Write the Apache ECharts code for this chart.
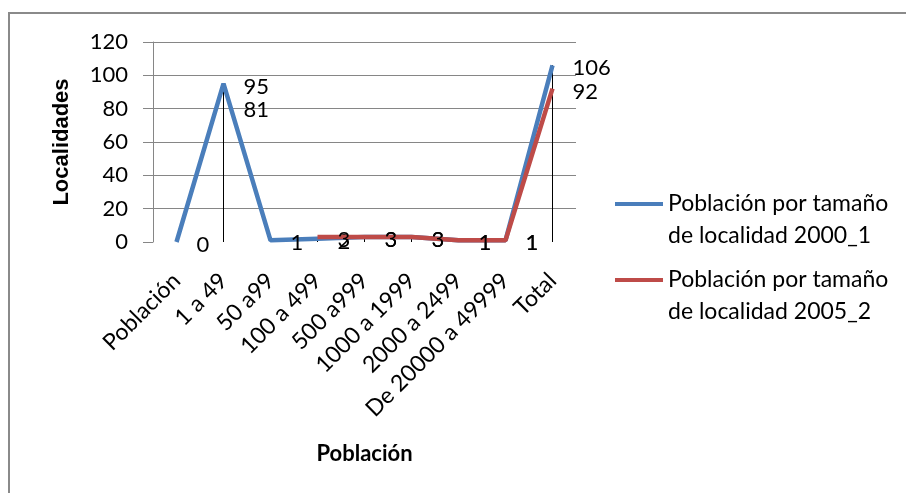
<!DOCTYPE html>
<html>
<head>
<meta charset="utf-8">
<script src="https://cdn.jsdelivr.net/npm/echarts@6/dist/echarts.min.js"></script>
<style>html,body{margin:0;padding:0;background:#fff;}#c{width:906px;height:493px;}</style>
</head>
<body>
<div id="c"></div>
<script>
const categories = ['Población', '1 a 49', '50 a99', '100 a 499', '500 a999', '1000 a 1999', '2000 a 2499', 'De 20000 a 49999', 'Total'];
const serie2000 = [0, 95, 1, 2, 3, 3, 1, 1, 106];
const serie2005 = [null, 81, null, 3, 3, 3, 1, 1, 92];
const seriesNames = ['Población por tamaño de localidad 2000_1', 'Población por tamaño de localidad 2005_2'];
const yTicks = { min: 0, max: 120, interval: 20 };

const blue = '#4A7EBB';
const red = '#BE4B48';
const dropVals = categories.map((c, i) => Math.max(serie2000[i] ?? 0, serie2005[i] ?? 0));

const chart = echarts.init(document.getElementById('c'));
const labelStyle = { show: true, position: 'right', distance: 20, offset: [0, 3], color: '#000', fontSize: 22, fontFamily: 'Lato' };
const legendText = { color: '#000', fontSize: 23, fontFamily: 'Lato', lineHeight: 32 };
// blank first line so that the icon sits beside the first text line
const fmt = n => '\n' + n.replace(' de ', '\nde ');

chart.setOption({
  animation: false,
  graphic: [{
    type: 'rect', shape: { x: 9, y: 13, width: 1000, height: 1000 },
    style: { fill: 'none', stroke: '#8a8a8a', lineWidth: 2 }, silent: true
  }],
  legend: [
    { data: [{ name: seriesNames[0], itemStyle: { color: blue } }], left: 610, top: 151, icon: 'rect', itemWidth: 48, itemHeight: 4, formatter: fmt, textStyle: legendText, selectedMode: false },
    { data: [{ name: seriesNames[1], itemStyle: { color: red } }], left: 610, top: 227, icon: 'rect', itemWidth: 48, itemHeight: 4, formatter: fmt, textStyle: legendText, selectedMode: false }
  ],
  grid: { left: 153, top: 42, right: 330, bottom: 251 },
  xAxis: {
    type: 'category', data: categories, boundaryGap: true,
    axisLine: { show: false }, axisTick: { show: false },
    axisLabel: { rotate: 45, interval: 0, margin: 35, fontSize: 23, fontFamily: 'Lato', color: '#000' },
    name: 'Población', nameLocation: 'middle', nameGap: 201,
    nameTextStyle: { fontFamily: 'Lato', fontWeight: 'bold', fontSize: 22, color: '#000' }
  },
  yAxis: {
    type: 'value', min: yTicks.min, max: yTicks.max, interval: yTicks.interval,
    axisLine: { show: true, lineStyle: { color: '#868686' } },
    axisTick: { show: true, length: 10, lineStyle: { color: '#868686' } },
    splitLine: { show: true, showMinLine: false, lineStyle: { color: '#868686' } },
    axisLabel: { margin: 25, fontSize: 22, fontFamily: 'Lato', color: '#000' },
    name: 'Localidades', nameLocation: 'middle', nameRotate: 90, nameGap: 80,
    nameTextStyle: { fontFamily: 'Liberation Sans', fontWeight: 'bold', fontSize: 22, color: '#000' }
  },
  series: [
    { type: 'bar', data: dropVals, barWidth: 1, itemStyle: { color: '#000' }, silent: true, z: 1, tooltip: { show: false } },
    { name: seriesNames[0], type: 'line', data: serie2000, symbol: 'circle', symbolSize: 0, showSymbol: true,
      lineStyle: { color: blue, width: 4.5 }, itemStyle: { color: blue }, label: labelStyle, z: 3 },
    { name: seriesNames[1], type: 'line', data: serie2005, symbol: 'circle', symbolSize: 0, showSymbol: true,
      lineStyle: { color: red, width: 4.5 }, itemStyle: { color: red }, label: labelStyle, z: 4 }
  ]
});
</script>
</body>
</html>
